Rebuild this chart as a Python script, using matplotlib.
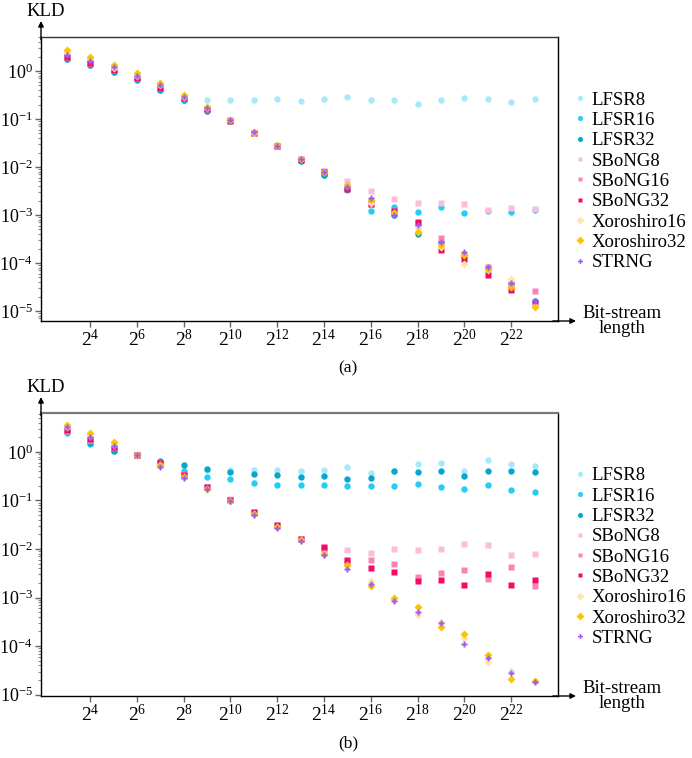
import numpy as np
import matplotlib
matplotlib.use("Agg")
import matplotlib.pyplot as plt
from matplotlib.ticker import FixedLocator, NullLocator, LogLocator

plt.rcParams['font.family'] = 'Liberation Serif'
plt.rcParams['mathtext.fontset'] = 'custom'
plt.rcParams['mathtext.rm'] = 'Liberation Serif'
plt.rcParams['mathtext.it'] = 'Liberation Serif:italic'

# bit-stream length exponents (2^3 ... 2^23)
exps = np.arange(3, 24)
lengths = 2.0 ** exps

names = ["LFSR8", "LFSR16", "LFSR32", "SBoNG8", "SBoNG16", "SBoNG32",
         "Xoroshiro16", "Xoroshiro32", "STRNG"]

# ---------------- panel (a) ----------------
a_lfsr8 = [1.9, 1.4, 1.0, 0.7, 0.43, 0.26, 0.25, 0.25, 0.245, 0.26, 0.24, 0.265,
           0.29, 0.245, 0.25, 0.21, 0.245, 0.28, 0.26, 0.23, 0.265]
a_lfsr16 = [1.8, 1.35, 0.96, 0.67, 0.41, 0.25, 0.15, 0.09, 0.05, 0.027, 0.0135, 0.0068,
            0.0033, 0.0012, 0.00147, 0.00117, 0.0015, 0.00112, 0.00122, 0.00115, 0.00125]
a_lfsr32 = [1.75, 1.31, 0.94, 0.65, 0.40, 0.25, 0.15, 0.09, 0.05, 0.027, 0.0135, 0.0068,
            0.0034, 0.0019, 0.0010, 0.0004, 0.00027, 0.00015, 0.00007, 0.000037, 0.000016]
a_sbong8 = [2.0, 1.5, 1.05, 0.72, 0.45, 0.27, 0.16, 0.095, 0.052, 0.028, 0.0145, 0.0080,
            0.0052, 0.0031, 0.0022, 0.00178, 0.0018, 0.00173, 0.00126, 0.00138, 0.00136]
a_sbong16 = [1.95, 1.49, 1.05, 0.70, 0.45, 0.27, 0.16, 0.093, 0.051, 0.028, 0.0145, 0.0082,
             0.0036, 0.0017, 0.0012, 0.00068, 0.00034, 0.00014, 0.000081, 0.000036, 0.000026]
a_sbong32 = [1.93, 1.49, 1.05, 0.70, 0.45, 0.27, 0.16, 0.092, 0.051, 0.028, 0.014, 0.0080,
             0.0034, 0.00166, 0.0012, 0.0007, 0.00019, 0.00012, 0.000055, 0.000027, 0.000015]
a_xoro16 = [2.4, 1.75, 1.15, 0.80, 0.50, 0.29, 0.17, 0.095, 0.052, 0.028, 0.0148, 0.0078,
            0.0040, 0.0018, 0.0011, 0.00053, 0.00022, 0.000095, 0.00007, 0.000047, 0.000013]
a_xoro32 = [2.7, 1.93, 1.33, 0.89, 0.57, 0.31, 0.18, 0.097, 0.054, 0.029, 0.015, 0.0078,
            0.0042, 0.0021, 0.00108, 0.00045, 0.00024, 0.00015, 0.000075, 0.000032, 0.000012]
a_strng = [2.15, 1.64, 1.23, 0.79, 0.51, 0.29, 0.17, 0.096, 0.053, 0.028, 0.0145, 0.0078,
           0.0039, 0.0023, 0.00098, 0.00062, 0.00028, 0.000173, 0.000081, 0.000038, 0.000016]

# ---------------- panel (b) ----------------
b_lfsr8 = [2.6, 1.6, 1.1, 0.85, 0.55, 0.40, 0.42, 0.43, 0.43, 0.43, 0.40, 0.42,
           0.48, 0.37, 0.40, 0.56, 0.59, 0.41, 0.67, 0.55, 0.51]
b_lfsr16 = [2.4, 1.42, 1.03, 0.85, 0.55, 0.40, 0.30, 0.27, 0.226, 0.206, 0.21, 0.206,
            0.20, 0.196, 0.20, 0.216, 0.19, 0.17, 0.21, 0.165, 0.15]
b_lfsr32 = [2.5, 1.5, 1.05, 0.86, 0.66, 0.53, 0.44, 0.376, 0.35, 0.33, 0.30, 0.316,
            0.27, 0.29, 0.40, 0.376, 0.40, 0.316, 0.40, 0.40, 0.376]
b_sbong8 = [2.7, 1.74, 1.25, 0.88, 0.56, 0.33, 0.19, 0.105, 0.057, 0.031, 0.016, 0.0095,
            0.0097, 0.0083, 0.0100, 0.0097, 0.0099, 0.0126, 0.0123, 0.0076, 0.0078]
b_sbong16 = [2.7, 1.74, 1.25, 0.88, 0.58, 0.33, 0.185, 0.10, 0.056, 0.030, 0.016, 0.0100,
             0.0055, 0.0059, 0.0048, 0.0026, 0.0032, 0.0037, 0.0024, 0.0042, 0.0017]
b_sbong32 = [2.8, 1.8, 1.25, 0.88, 0.60, 0.34, 0.19, 0.10, 0.057, 0.031, 0.016, 0.011,
             0.0058, 0.0041, 0.0033, 0.0022, 0.0023, 0.0018, 0.0030, 0.0018, 0.0023]
b_xoro16 = [3.3, 2.1, 1.4, 0.86, 0.53, 0.31, 0.17, 0.098, 0.052, 0.028, 0.015, 0.0078,
            0.0044, 0.0022, 0.00095, 0.00043, 0.00032, 0.00015, 0.000048, 0.000031, 0.000019]
b_xoro32 = [3.55, 2.46, 1.56, 0.88, 0.53, 0.30, 0.17, 0.097, 0.052, 0.028, 0.015, 0.0078,
            0.0046, 0.0017, 0.0010, 0.00065, 0.00025, 0.000174, 0.000066, 0.000021, 0.0000195]
b_strng = [3.3, 2.04, 1.31, 0.86, 0.49, 0.29, 0.17, 0.095, 0.051, 0.027, 0.0145, 0.0076,
           0.0039, 0.0019, 0.00083, 0.0005, 0.0003, 0.000112, 0.000058, 0.000028, 0.000018]

colors = ["#a6e9fb", "#25cdf6", "#07a6cf", "#fbbddb", "#f985b5", "#f40b6a",
          "#fde6b1", "#fdc402", "#9b5cf3"]
markers = ["o", "o", "o", "s", "s", "s", "D", "D", "P"]
msizes = [4.6, 4.6, 4.6, 4.2, 4.2, 4.2, 4.5, 4.5, 4.4]

panels = [
    ([a_lfsr8, a_lfsr16, a_lfsr32, a_sbong8, a_sbong16, a_sbong32, a_xoro16, a_xoro32, a_strng],
     (1 - 321/758, 1 - 37/758), (6.2e-6, 5.1), "(a)", 1 - 368/758),
    ([b_lfsr8, b_lfsr16, b_lfsr32, b_sbong8, b_sbong16, b_sbong32, b_xoro16, b_xoro32, b_strng],
     (1 - 696/758, 1 - 413/758), (9.4e-6, 6.3), "(b)", 1 - 743/758),
]

fig = plt.figure(figsize=(6.92, 7.58), dpi=100)

for series, (bot, top), ylims, cap, cap_y in panels:
    ax = fig.add_axes([41/692, bot, (558-41)/692, top - bot])
    for vals, name, c, m, s in zip(series, names, colors, markers, msizes):
        ax.plot(lengths, vals, ls="none", marker=m, ms=s, color=c, mec="none", label=name)

    ax.set_xscale("log", base=2)
    ax.set_yscale("log")
    ax.set_xlim(2**1.9, 2**24)
    ax.set_ylim(*ylims)

    ax.xaxis.set_major_locator(FixedLocator(2.0 ** np.arange(4, 23, 2)))
    ax.xaxis.set_minor_locator(NullLocator())
    ax.set_xticklabels(["$2^{%d}$" % k for k in range(4, 23, 2)])
    ax.yaxis.set_major_locator(LogLocator(base=10, numticks=10))
    ax.yaxis.set_minor_locator(LogLocator(base=10, subs=np.arange(2, 10), numticks=10))

    ax.tick_params(axis="both", which="major", labelsize=13, color="#666666",
                   length=4, width=1, direction="out", pad=2)
    ax.tick_params(axis="x", which="major", labelsize=14)
    ax.tick_params(axis="y", which="minor", color="#888888", length=2.5, width=0.8)

    for sp in ["left", "bottom"]:
        ax.spines[sp].set_linewidth(1.0)
    ax.spines["top"].set_color("#333333" if cap == "(a)" else "#777777")
    ax.spines["top"].set_linewidth(1.0 if cap == "(a)" else 1.6)
    ax.spines["right"].set_linewidth(1.0)

    # axis arrows
    ax.annotate("", xy=(0, 1 + 16/284), xytext=(0, 0.99), xycoords="axes fraction",
                arrowprops=dict(arrowstyle="-|>", color="k", lw=1.0, mutation_scale=8,
                                shrinkA=0, shrinkB=0))
    ax.annotate("", xy=(1 + 18/517, 0), xytext=(0.99, 0), xycoords="axes fraction",
                arrowprops=dict(arrowstyle="-|>", color="k", lw=1.0, mutation_scale=8,
                                shrinkA=0, shrinkB=0))

    ax.text(5/517, 1 + 26/284, "KLD", transform=ax.transAxes, ha="center", va="center",
            fontsize=13.5)
    ax.text(1.124, 0.0, "Bit-stream\nlength", transform=ax.transAxes, ha="center",
            va="center", fontsize=13.5, linespacing=0.92)

    ax.legend(loc="upper left", bbox_to_anchor=(1.029, 0.808), frameon=False,
              fontsize=13.5, borderpad=0, borderaxespad=0, handlelength=0.7,
              handletextpad=0.28, labelspacing=0.17, markerscale=0.8)

    fig.text(0.503, cap_y, cap, ha="center", va="center", fontsize=12.5)

fig.savefig("out.png", dpi=100)
